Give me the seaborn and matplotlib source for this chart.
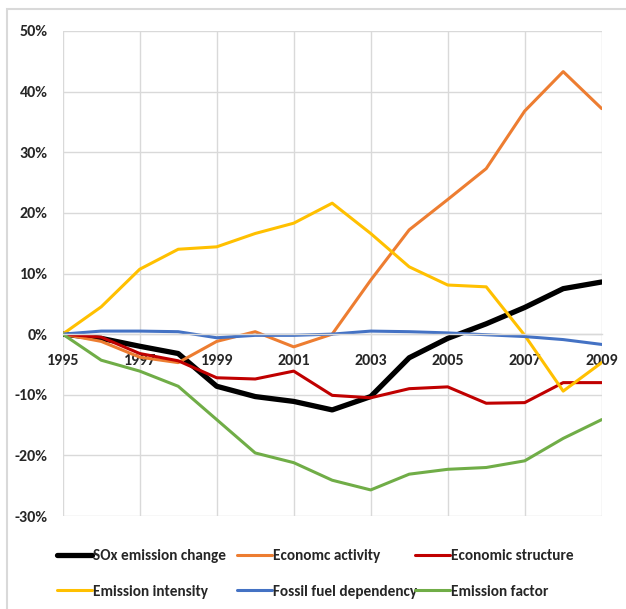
import matplotlib
matplotlib.use("Agg")
import matplotlib.pyplot as plt
import seaborn as sns
import pandas as pd
from matplotlib.patches import Rectangle

years = list(range(1995, 2010))
sox_change = [0, -0.7, -2.0, -3.2, -8.6, -10.3, -11.1, -12.5, -10.3, -3.9, -0.7, 1.7, 4.4, 7.5, 8.6]
econ_activity = [0, -1.2, -3.8, -4.7, -1.2, 0.4, -2.1, 0.0, 8.9, 17.2, 22.2, 27.3, 36.8, 43.3, 37.2]
econ_structure = [0, -0.5, -3.2, -4.4, -7.2, -7.4, -6.1, -10.1, -10.5, -9.0, -8.7, -11.4, -11.3, -8.0, -8.0]
emission_intensity = [0, 4.5, 10.7, 14.0, 14.4, 16.6, 18.3, 21.6, 16.6, 11.1, 8.1, 7.8, -0.2, -9.4, -4.7]
fossil_fuel = [0, 0.5, 0.5, 0.4, -0.6, -0.2, -0.2, 0.0, 0.5, 0.4, 0.2, -0.1, -0.4, -0.9, -1.7]
emission_factor = [0, -4.3, -6.1, -8.6, -14.1, -19.6, -21.2, -24.1, -25.7, -23.1, -22.3, -22.0, -20.9, -17.2, -14.1]

series_names = ["SOx emission change", "Economc activity", "Economic structure",
                "Emission intensity", "Fossil fuel dependency", "Emission factor"]
series_values = [sox_change, econ_activity, econ_structure,
                 emission_intensity, fossil_fuel, emission_factor]
colors = ["#000000", "#ED7D31", "#C00000", "#FFC000", "#4472C4", "#70AD47"]
widths = [3.8, 2.2, 2.2, 2.2, 2.2, 2.2]

y_ticks = [-30, -20, -10, 0, 10, 20, 30, 40, 50]
x_ticks = [1995, 1997, 1999, 2001, 2003, 2005, 2007, 2009]

sns.set_style("white")
plt.rcParams["font.family"] = ["Carlito", "DejaVu Sans"]
plt.rcParams["font.weight"] = "bold"

fig = plt.figure(figsize=(6.26, 6.09), dpi=100)
ax = fig.add_axes([62.7 / 626, 1 - 516 / 609, (601.7 - 62.7) / 626, (516 - 31) / 609])

# outer chart border
fig.patches.append(Rectangle((7 / 626, -0.1), 1.2, (609 - 9) / 609 + 0.1,
                             transform=fig.transFigure, fill=False,
                             edgecolor="#D9D9D9", linewidth=1.5))

handles = []
for name, vals, c, w in zip(series_names, series_values, colors, widths):
    d = pd.DataFrame({"year": years, "value": vals})
    sns.lineplot(data=d, x="year", y="value", ax=ax, color=c, linewidth=w, label=name,
                 legend=False)
    handles.append(ax.lines[-1])

ax.set_xlim(1995, 2009)
ax.set_ylim(-30, 50)
ax.set_xticks(x_ticks)
ax.set_xticklabels([str(x) for x in x_ticks])
ax.set_yticks(y_ticks)
ax.set_yticklabels([f"{v}%" for v in y_ticks])
ax.set_xlabel("")
ax.set_ylabel("")
ax.grid(True, color="#D9D9D9", linewidth=1.0)
ax.set_axisbelow(True)
for s in ["top", "right", "left"]:
    ax.spines[s].set_visible(False)
ax.spines["bottom"].set_position(("data", 0))
ax.spines["bottom"].set_color("#D9D9D9")
ax.spines["bottom"].set_linewidth(1.0)
ax.tick_params(axis="both", length=0, labelsize=11.5)
ax.tick_params(axis="x", pad=14)
ax.tick_params(axis="y", pad=11)
for lab in ax.get_xticklabels() + ax.get_yticklabels():
    lab.set_fontweight("bold")

# legend: three columns of two entries each, at Excel-like fixed positions
col_x = [56.7, 236.6, 414.5]
columns = [[0, 3], [1, 4], [2, 5]]
for cx, idx in zip(col_x, columns):
    leg = fig.legend([handles[i] for i in idx], [series_names[i] for i in idx],
                     loc="center left", bbox_to_anchor=(cx / 626, 1 - 574 / 609),
                     frameon=False, fontsize=11, handlelength=2.3, handletextpad=0.08,
                     labelspacing=1.4, borderpad=0, borderaxespad=0)
    for t in leg.get_texts():
        t.set_fontweight("bold")

fig.savefig("out.png", dpi=100)
